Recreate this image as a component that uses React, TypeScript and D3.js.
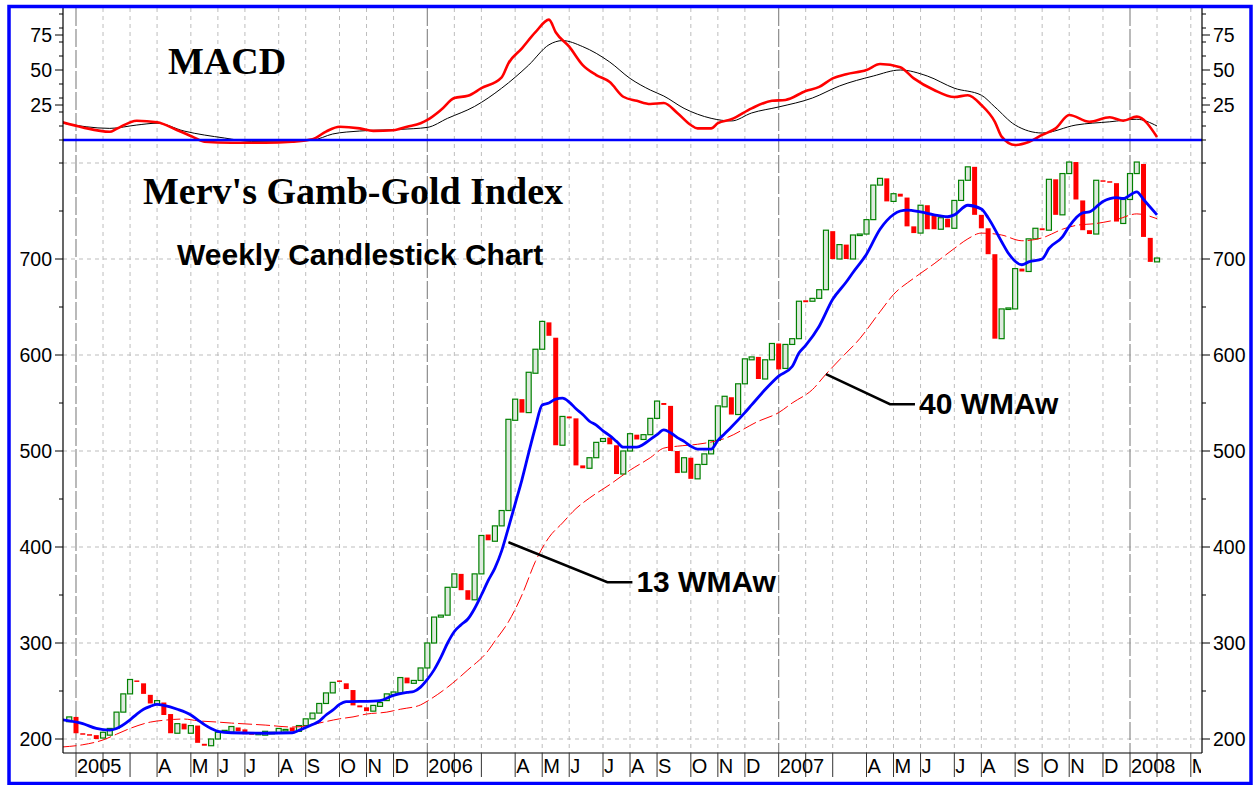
import React, { useEffect, useRef } from "react";
import * as d3 from "d3";

const W = 1260;
const H = 785;

// weekly candles (open / close), first week ends Fri 31 Dec 2004
const candleOpen = [
  218, 223, 206, 205, 204, 201, 204, 211, 228, 247,
  261, 258, 246, 236, 238, 226, 206, 216, 206, 214,
  195, 193, 200, 207, 207, 212, 210, 206, 205, 204,
  206, 206, 209, 212, 208, 214, 221, 227, 237, 248,
  261, 258, 251, 235, 233, 229, 234, 240, 246, 248,
  264, 258, 261,
  274, 300, 327, 329, 358, 372, 355,
  345, 372, 413, 406, 422, 438, 532, 554, 540, 581,
  606, 634, 618, 506, 536, 534, 485, 482, 493, 510,
  514, 506, 476, 500, 517, 512, 517, 534, 550, 547,
  500, 478, 493, 471, 486, 497, 511, 546, 556, 538,
  570, 595, 598, 575, 595,
  612, 586, 611, 617, 657,
  656, 659, 668, 729, 700, 715, 700, 725, 726, 741,
  777, 784, 760, 768, 764, 734, 727, 756, 745, 731,
  742, 732, 761, 782, 796, 746, 732, 705, 617, 648,
  648, 690, 687, 721, 732, 730, 783, 746, 789, 801,
  761, 730, 726, 782, 781, 779, 737, 762, 789, 799,
  722, 697,
];
const candleClose = [
  223, 206, 205, 204, 200, 207, 211, 228, 247, 262,
  260, 247, 237, 240, 225, 206, 216, 210, 214, 196,
  193, 200, 207, 209, 213, 208, 205, 205, 206, 208,
  207, 211, 210, 208, 214, 221, 227, 237, 248, 259,
  260, 252, 235, 233, 229, 235, 238, 247, 249, 264,
  258, 261, 274,
  300, 327, 329, 358, 372, 355, 345,
  372, 412, 407, 422, 438, 533, 554, 540, 582, 606,
  635, 620, 506, 536, 534, 485, 482, 493, 509, 513,
  507, 476, 500, 518, 512, 517, 534, 552, 548, 500,
  477, 493, 471, 486, 497, 511, 547, 557, 538, 570,
  596, 598, 575, 595, 612,
  585, 611, 617, 656, 655,
  659, 668, 730, 700, 715, 700, 725, 726, 741, 777,
  784, 760, 768, 765, 734, 727, 756, 731, 731, 743,
  733, 761, 782, 796, 746, 732, 705, 617, 648, 649,
  690, 687, 721, 732, 730, 783, 746, 789, 801, 762,
  730, 726, 782, 781, 780, 739, 762, 789, 801, 723,
  697, 701,
];

// [week index, value]
const wma13 = [
  [-1, 220], [2, 216], [4, 211], [6, 209.3], [7, 211], [9, 220], [10, 226], [11, 231],
  [12, 234], [13, 236], [14, 235], [16, 231], [18, 225], [19, 220], [20, 215], [21, 211],
  [22, 208], [24, 206.5], [29, 206], [33, 206.5], [34, 209], [36, 215], [37, 218.5],
  [38, 225], [39, 230], [40, 236], [41, 239], [45, 239.5], [46, 240], [48, 245.5],
  [50, 248.5], [51, 249.5], [52, 254], [53, 262], [54, 272], [55, 285], [56, 300],
  [57, 312], [58, 319], [59, 325], [60, 336], [61, 350], [62, 365], [63, 378], [64, 396],
  [65, 420], [66, 445], [67, 470], [68, 498], [69, 525], [70, 548], [71, 550], [72, 554],
  [73, 555], [74, 551], [75, 544], [76, 538], [77, 531], [78, 527], [79, 521], [80, 516],
  [81, 510], [82, 504], [84, 504], [85, 507], [86, 512], [87, 517], [88, 522], [89, 519],
  [90, 514], [91, 510], [92, 505], [93, 502], [95, 502], [96, 511], [97, 518], [98, 525],
  [100, 540], [101, 548], [103, 564], [105, 578], [107, 588], [108, 602], [109, 610],
  [111, 630], [113, 658], [115, 676], [116, 686], [118, 705], [120, 731], [121, 740],
  [123, 750], [124, 751], [126, 749], [128, 746], [130, 744], [131, 746], [133, 756],
  [135, 752], [136, 743], [138, 718], [139, 706], [141, 694], [142, 697], [144, 700],
  [145, 711], [147, 723], [148, 734], [150, 748], [151, 749], [153, 760], [155, 764],
  [156, 763], [158, 770], [159, 762], [161, 746],
];
const wma40 = [
  [-1, 191.7], [2, 194], [5, 199], [7, 205], [9, 211], [12, 217.6], [14, 219.5], [17, 220.8],
  [19, 219], [22, 217.6], [24, 216.6], [29, 214.5], [33, 212.5], [35, 213.5], [37, 216.6],
  [40, 221], [42, 223], [44, 226], [47, 228], [49, 231], [52, 235.5], [53, 239.5], [56, 254],
  [59, 272], [62, 292], [63, 302], [65, 322], [67, 350], [69, 385], [71, 410], [73, 425],
  [75, 440], [77, 451], [80, 465], [83, 480], [86, 493], [88, 503], [90, 505], [93, 507],
  [97, 513], [102, 531], [105, 540], [107, 550], [110, 564], [112, 580], [114, 595],
  [117, 617], [120, 645], [122, 663], [125, 680], [128, 695], [131, 711], [133, 721],
  [135, 727], [138, 725], [141, 719], [144, 722], [147, 731], [149, 735], [152, 737],
  [155, 741], [158, 747], [161, 742],
];
const macdLine = [
  [-1, 12.7], [2, 9], [6, 5.9], [7, 8], [10, 13.8], [13, 12.7], [16, 7], [18, 2.9], [20, -1.2],
  [24, -2], [29, -2], [33, -1.2], [36, 0.5], [38, 6], [40, 9.5], [43, 8.3], [45, 6.5], [48, 7],
  [50, 9.5], [52, 12], [53, 14.3], [55, 21.4], [57, 30], [59, 31.6], [61, 37], [64, 44.8],
  [65, 54.8], [67, 65.5], [69, 77], [71, 86], [72, 77], [74, 66.7], [76, 53.5], [78, 46.4],
  [80, 41.4], [82, 30.9], [84, 28], [86, 25.7], [88, 26.4], [90, 19.3], [92, 10.7], [93, 8.3],
  [95, 8.3], [96, 12], [98, 14.8], [101, 22.6], [104, 28], [106, 28.6], [109, 35], [111, 37.9],
  [113, 44], [115, 47], [118, 50], [120, 54.3], [123, 52], [125, 44], [128, 35.7], [131, 30.7],
  [133, 32], [135, 25], [137, 13], [138, 2.4], [140, -3.6], [142, -1.4], [144, 3.6], [146, 8.3],
  [148, 17.9], [151, 13], [154, 16.2], [156, 13.8], [158, 16.7], [161, 2.1],
];
const macdSignal = [
  [-1, 12], [6, 8.3], [10, 10.7], [13, 12], [17, 6.4], [23, 1.4], [27, -1], [36, 0], [39, 4.3],
  [43, 6.4], [49, 7.6], [53, 9], [56, 15.5], [60, 24], [64, 37], [68, 53.5], [71, 68], [73, 71],
  [76, 66.7], [80, 55.7], [83, 44], [86, 35.7], [88, 31.4], [91, 22.6], [95, 15.5], [98, 13.6],
  [101, 19.3], [105, 23.6], [110, 30], [114, 38.6], [119, 45.7], [123, 50], [127, 45.7],
  [131, 37], [135, 32], [137, 23.6], [140, 10.7], [144, 5], [149, 10.7], [154, 13], [158, 14.8],
  [161, 10],
];

const priceTicks = [200, 300, 400, 500, 600, 700];
const priceMinor = [250, 350, 450, 550, 650, 750, 800];
const priceGrid = [200, 300, 400, 500, 600, 700, 800];
const macdTicks = [25, 50, 75];
const macdMinor = [0, 10, 20, 30, 40, 60, 70, 80, 90];
const monthLetters = ["", "F", "M", "A", "M", "J", "J", "A", "S", "O", "N", "D"];

export default function App() {
  const ref = useRef<SVGSVGElement>(null);

  useEffect(() => {
    const svg = d3.select(ref.current);
    svg.selectAll("*").remove();

    const left = 63, right = 1202, top = 8, zeroY = 140, bottom = 753;
    const sans = "'Liberation Sans', Arial, sans-serif";
    const serif = "'Liberation Serif', 'Times New Roman', serif";

    const firstWeek = new Date(2004, 11, 31);
    const weekDate = (i: number) => d3.timeDay.offset(firstWeek, 7 * i);
    const x = d3.scaleTime()
      .domain([new Date(2005, 0, 7), new Date(2008, 0, 4)])
      .range([76, 1130]);
    const xw = (i: number) => x(weekDate(i));
    const y = d3.scaleLinear().domain([200, 700]).range([739, 259]);
    const ym = d3.scaleLinear().domain([0, 75]).range([140, 35]);

    svg.append("rect").attr("width", W).attr("height", H).attr("fill", "#fff");

    const defs = svg.append("defs");
    defs.append("clipPath").attr("id", "plotClip")
      .append("rect").attr("x", left).attr("y", top)
      .attr("width", right - left).attr("height", bottom - top);
    defs.append("clipPath").attr("id", "labelClip")
      .append("rect").attr("x", left).attr("y", bottom)
      .attr("width", right - left - 1).attr("height", 30);

    // month ticks sit on the first weekly bar of each month
    const ticks = d3.timeMonth.range(new Date(2005, 0, 1), new Date(2008, 3, 1))
      .map(m => ({ date: d3.timeFriday.ceil(m), month: m.getMonth(), year: m.getFullYear() }))
      .filter(t => x(t.date) < right);

    // grid
    const grid = svg.append("g");
    priceGrid.forEach(v => {
      grid.append("line")
        .attr("x1", left).attr("x2", right).attr("y1", y(v)).attr("y2", y(v))
        .attr("stroke", "#bdbdbd").attr("stroke-dasharray", "4,4");
    });
    ticks.forEach(t => {
      const xx = x(t.date);
      const yr = t.month === 0;
      grid.append("line")
        .attr("x1", xx).attr("x2", xx).attr("y1", top).attr("y2", bottom)
        .attr("stroke", yr ? "#8c8c8c" : "#bdbdbd")
        .attr("stroke-width", yr ? 1.2 : 1)
        .attr("stroke-dasharray", yr ? "18,3" : "4,4");
    });

    const plot = svg.append("g").attr("clip-path", "url(#plotClip)");

    // candles
    const candles = d3.range(candleOpen.length).map(i => ({ i, o: candleOpen[i], c: candleClose[i] }));
    const cw = 5;
    plot.append("g").selectAll("rect").data(candles).enter().append("rect")
      .attr("x", d => xw(d.i) - cw / 2)
      .attr("y", d => y(Math.max(d.o, d.c)))
      .attr("width", cw)
      .attr("height", d => Math.max(1.5, Math.abs(y(d.o) - y(d.c))))
      .attr("fill", d => (d.c >= d.o ? "#dfeadf" : "#ff0000"))
      .attr("stroke", d => (d.c >= d.o ? "#008000" : "none"))
      .attr("stroke-width", 1.2);

    const priceLine = d3.line<number[]>()
      .x(d => xw(d[0])).y(d => y(d[1]))
      .curve(d3.curveMonotoneX);
    const macdPath = d3.line<number[]>()
      .x(d => xw(d[0])).y(d => ym(d[1]))
      .curve(d3.curveMonotoneX);

    plot.append("path").attr("d", priceLine(wma40))
      .attr("fill", "none").attr("stroke", "#ff0000").attr("stroke-width", 1)
      .attr("stroke-dasharray", "14,4");
    plot.append("path").attr("d", priceLine(wma13))
      .attr("fill", "none").attr("stroke", "#0000ff").attr("stroke-width", 2.8);

    plot.append("path").attr("d", macdPath(macdSignal))
      .attr("fill", "none").attr("stroke", "#000").attr("stroke-width", 1);
    plot.append("path").attr("d", macdPath(macdLine))
      .attr("fill", "none").attr("stroke", "#ff0000").attr("stroke-width", 2.6);

    // zero line of the MACD panel
    svg.append("line")
      .attr("x1", left).attr("x2", right).attr("y1", zeroY).attr("y2", zeroY)
      .attr("stroke", "#0000ff").attr("stroke-width", 2.5);

    // axes
    const ax = svg.append("g").attr("font-family", sans).attr("font-size", 19.5).attr("fill", "#000");
    [left, right].forEach(xx => {
      ax.append("line").attr("x1", xx).attr("x2", xx).attr("y1", top).attr("y2", bottom)
        .attr("stroke", "#000").attr("stroke-width", 1.2);
    });
    ax.append("line").attr("x1", left).attr("x2", right).attr("y1", bottom).attr("y2", bottom)
      .attr("stroke", "#000").attr("stroke-width", 1.2);

    const sideTicks = (vals: number[], sc: (v: number) => number, len: number, labels: boolean) => {
      vals.forEach(v => {
        const yy = sc(v);
        ax.append("line").attr("x1", left - len).attr("x2", left).attr("y1", yy).attr("y2", yy)
          .attr("stroke", "#000");
        ax.append("line").attr("x1", right).attr("x2", right + len).attr("y1", yy).attr("y2", yy)
          .attr("stroke", "#000");
        if (labels) {
          ax.append("text").attr("x", left - 11).attr("y", yy).attr("dy", "0.36em")
            .attr("text-anchor", "end").text(v);
          ax.append("text").attr("x", right + 11).attr("y", yy).attr("dy", "0.36em")
            .attr("text-anchor", "start").text(v);
        }
      });
    };
    sideTicks(priceTicks, y, 8, true);
    sideTicks(priceMinor, y, 4, false);
    sideTicks(macdTicks, ym, 8, true);
    sideTicks(macdMinor, ym, 4, false);

    // time axis
    const lab = svg.append("g").attr("clip-path", "url(#labelClip)")
      .attr("font-family", sans).attr("font-size", 20);
    let yearX = -Infinity;
    ticks.forEach(t => {
      const xx = x(t.date);
      ax.append("line").attr("x1", xx).attr("x2", xx).attr("y1", bottom).attr("y2", 777)
        .attr("stroke", "#333").attr("stroke-width", 1);
      if (t.month === 0) yearX = xx;
      else if (xx - yearX < 59) return;
      lab.append("text").attr("x", xx + 1).attr("y", 773)
        .text(t.month === 0 ? String(t.year) : monthLetters[t.month]);
    });

    // titles
    svg.append("text").attr("x", 168).attr("y", 74)
      .attr("font-family", serif).attr("font-weight", "bold").attr("font-size", 38).text("MACD");
    svg.append("text").attr("x", 143).attr("y", 204)
      .attr("font-family", serif).attr("font-weight", "bold").attr("font-size", 38)
      .text("Merv's Gamb-Gold Index");
    svg.append("text").attr("x", 177).attr("y", 265)
      .attr("font-family", sans).attr("font-weight", "bold").attr("font-size", 30)
      .text("Weekly Candlestick Chart");

    // moving average call-outs
    const notes = [
      { week: 65, value: 405, dx: 99, dy: 40, text: "13 WMAw" },
      { week: 112, value: 580, dx: 64, dy: 30, text: "40 WMAw" },
    ];
    notes.forEach(n => {
      const x0 = xw(n.week), y0 = y(n.value);
      svg.append("path")
        .attr("d", `M${x0},${y0}L${x0 + n.dx},${y0 + n.dy}L${x0 + n.dx + 25},${y0 + n.dy}`)
        .attr("fill", "none").attr("stroke", "#000").attr("stroke-width", 2.5);
      svg.append("text").attr("x", x0 + n.dx + 29).attr("y", y0 + n.dy + 10)
        .attr("font-family", sans).attr("font-weight", "bold").attr("font-size", 30)
        .text(n.text);
    });

    // frame
    svg.append("rect").attr("x", 9).attr("y", 6.5).attr("width", 1242).attr("height", 777)
      .attr("fill", "none").attr("stroke", "#0000ff").attr("stroke-width", 3.5);
  }, []);

  return (
    <svg ref={ref} width={W} height={H}
      style={{ position: "absolute", left: 0, top: 0, display: "block" }} />
  );
}
